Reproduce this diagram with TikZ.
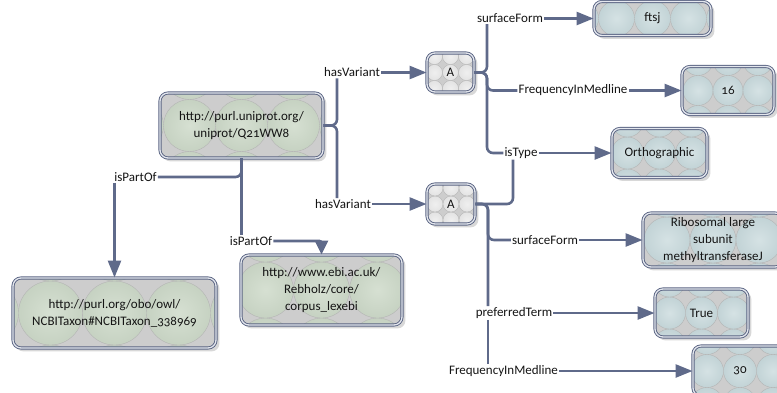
\documentclass[tikz,border=0pt]{standalone}
\usepackage{fontspec}
\setmainfont{Carlito}[Numbers=OldStyle]
\usetikzlibrary{arrows.meta,backgrounds}

\definecolor{linkcol}{HTML}{5F6A8A}
\definecolor{rimcol}{HTML}{5A6483}
\definecolor{rimgap}{HTML}{E4E7EE}
\definecolor{gapcol}{HTML}{CDCDCD}
\definecolor{seamcol}{HTML}{B2B2B2}
\definecolor{sage}{HTML}{C6D2C2}
\definecolor{sagehi}{HTML}{D6E0D2}
\definecolor{aqua}{HTML}{C2D3D6}
\definecolor{aquahi}{HTML}{D5E2E4}
\definecolor{pearl}{HTML}{E3E3E3}
\definecolor{pearlhi}{HTML}{EFEFEF}
\definecolor{ink}{HTML}{141414}
\definecolor{shadowcol}{HTML}{D8D8D8}

\tikzset{
  % scalloped fill: a square grid of tangent shaded discs over a grey ground,
  % one row centred on the box
  tile/.style n args={3}{fill=gapcol, path picture={
      \foreach \i in {-7,...,7}{\foreach \j in {-2,...,2}{
        \path[inner color=#2, outer color=#1, draw=seamcol, line width=0.35pt]
          ([shift={({2*#3*\i pt},{2*#3*\j pt})}]path picture bounding box.center)
          circle (#3 pt);
      }}}},
  box/.style={rounded corners=8pt, draw=rimcol, line width=0.9pt,
      double=rimgap, double distance=1.3pt, text=ink, align=center,
      inner sep=0pt, font=\fontsize{13}{17}\selectfont},
  % size w, h and disc radius r
  resource/.style n args={3}{box, minimum width=#1pt, minimum height=#2pt,
      tile={sage}{sagehi}{#3}},
  literal/.style n args={3}{box, minimum width=#1pt, minimum height=#2pt,
      tile={aqua}{aquahi}{#3}},
  blank/.style n args={3}{box, minimum width=#1pt, minimum height=#2pt,
      tile={pearl}{pearlhi}{#3}},
  lab/.style={text=ink, inner sep=1pt, font=\fontsize{13}{15}\selectfont},
  edge/.style={draw=linkcol, line width=2.6pt, rounded corners=6pt},
  link/.style={edge, -{Triangle[length=17pt,width=13pt]}},
}

\begin{document}
\begin{tikzpicture}[x=1pt,y=-1pt]
\useasboundingbox (0,0) rectangle (777,392);

% nodes
\node[resource={163}{65}{26}] (main) at (241.5,125.5)
  {http://purl.uniprot.org/\\uniprot/Q21WW8};
\node[blank={47}{39}{8}] (A1) at (450.5,72.5) {A};
\node[blank={48}{40}{8}] (A2) at (451,204) {A};
\node[literal={117}{34}{18}] (ftsj) at (652.5,18.5) {ftsj};
\node[literal={92}{48}{15}] (n16) at (728,90.5) {16};
\node[literal={95}{49}{16}] (ortho) at (659.5,153) {Orthographic};
\node[literal={140}{54}{23}] (ribo) at (713,240)
  {Ribosomal large\\subunit\\methyltransferaseJ};
\node[literal={93}{48}{16}] (true) at (701.5,313) {True};
\node[literal={94}{50}{16.5}] (n30) at (740,371) {30};
\node[resource={203}{70}{32}] (ncbi) at (114.5,313)
  {http://purl.org/obo/owl/\\NCBITaxon\#NCBITaxon\_338969};
\node[resource={161}{70}{28}] (ebi) at (321.5,290)
  {http://www.ebi.ac.uk/\\Rebholz/core/\\corpus\_lexebi};

% shadows behind the boxes
\begin{scope}[on background layer]
  \foreach \n in {main,A1,A2,ftsj,n16,ortho,ribo,true,n30,ncbi,ebi}
    \fill[shadowcol, rounded corners=8pt]
      ([shift={(3pt,-3pt)}]\n.south west) rectangle ([shift={(3pt,-3pt)}]\n.north east);
\end{scope}

% edge labels
\node[lab] (hv1) at (352,72.5) {hasVariant};
\node[lab] (hv2) at (343,204) {hasVariant};
\node[lab] (ip1) at (135.5,177) {isPartOf};
\node[lab] (ip2) at (251,241) {isPartOf};
\node[lab] (sf1) at (510,18.5) {surfaceForm};
\node[lab] (fm1) at (573,90.5) {FrequencyInMedline};
\node[lab] (it) at (521,153) {isType};
\node[lab] (sf2) at (545,240) {surfaceForm};
\node[lab] (pt) at (514,313) {preferredTerm};
\node[lab] (fm2) at (503.5,371) {FrequencyInMedline};

% hasVariant
\draw[edge] (main.east) -- (337,125.5) -- (337,0 |- hv1.south);
\draw[edge] (main.east) -- (337,125.5) -- (337,0 |- hv2.north);
\draw[link] (hv1.east) -- (A1.west |- hv1.east);
\draw[link] (hv2.east) -- (A2.west |- hv2.east);

% isPartOf
\draw[edge] (main.south) -- (main.south |- ip1.east) -- (ip1.east);
\draw[link] (ncbi.north |- ip1.south) -- (ncbi.north);
\draw[edge] (main.south) -- (main.south |- ip2.north);
\draw[edge, rounded corners=2pt, -{Triangle[length=14pt,width=13pt]}] (ip2.east) -| (ebi.north);

% first variant
\draw[edge] (A1.east) -- (487,72.5) -- (487,0 |- sf1.south);
\draw[edge] (A1.east) -- (487,72.5) -- (487,0 |- fm1.west) -- (fm1.west);
\draw[edge] (A1.east) -- (487,72.5) -- (487,0 |- it.west) -- (it.west);
\draw[link] (sf1.east) -- (ftsj.west |- sf1.east);
\draw[link] (fm1.east) -- (n16.west |- fm1.east);
\draw[link] (it.east) -- (ortho.west |- it.east);

% second variant
\draw[edge] (A2.east) -- (513,204) -- (513,0 |- it.south);
\draw[edge] (A2.east) -- (488,204) -- (488,0 |- sf2.west) -- (sf2.west);
\draw[edge] (A2.east) -- (488,204) -- (488,0 |- pt.north);
\draw[edge] (488,0 |- pt.south) -- (488,0 |- fm2.north);
\draw[link] (sf2.east) -- (ribo.west |- sf2.east);
\draw[link] (pt.east) -- (true.west |- pt.east);
\draw[link] (fm2.east) -- (n30.west |- fm2.east);
\end{tikzpicture}
\end{document}
